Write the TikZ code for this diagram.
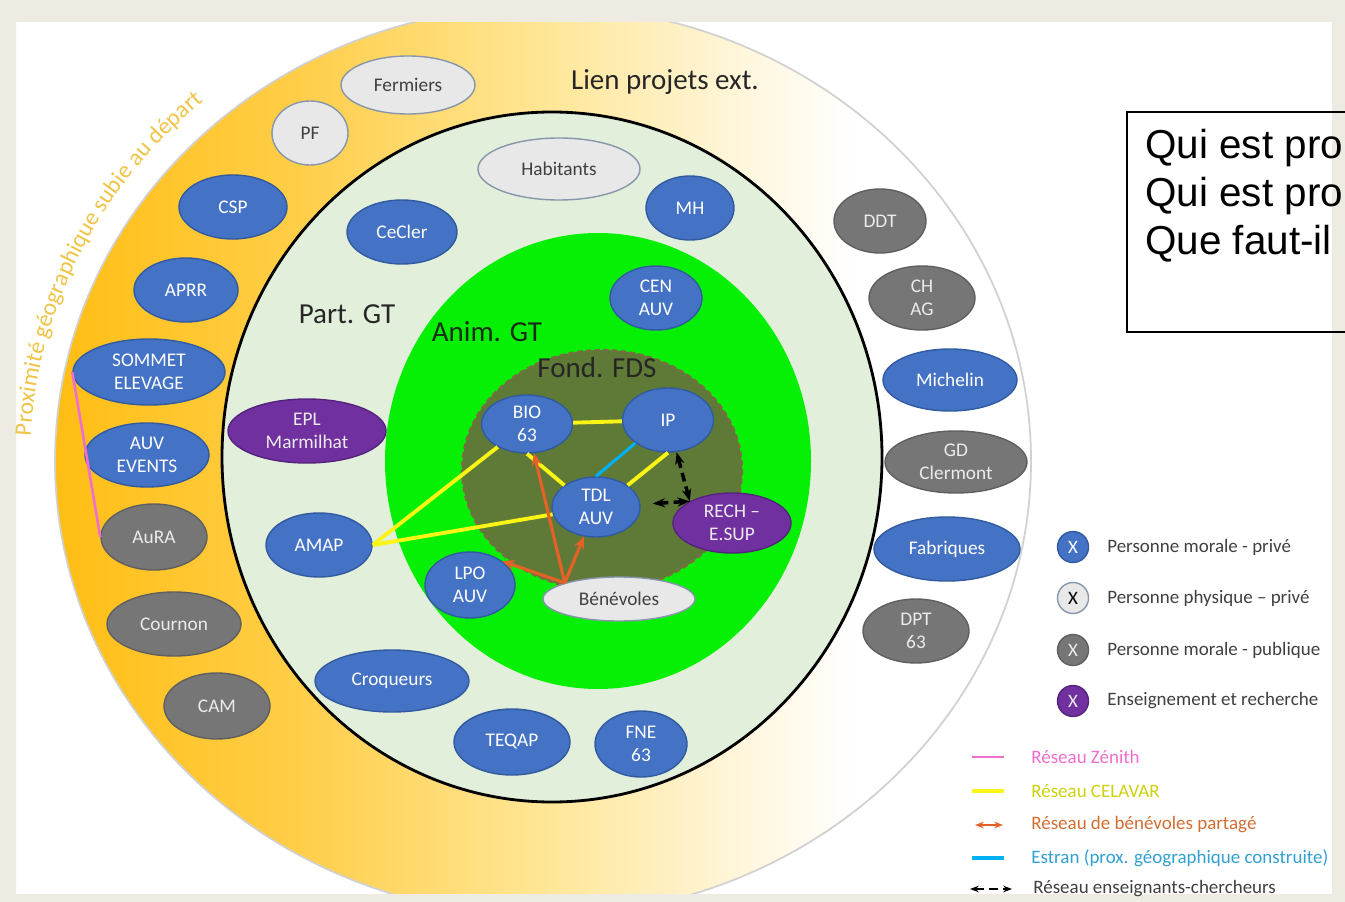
\documentclass[tikz,border=0pt]{standalone}
\usepackage{fontspec}
\setmainfont{Carlito}
\newfontfamily\qfont{Liberation Sans}
\usetikzlibrary{shapes.geometric, arrows.meta, decorations.text}

\definecolor{moralBlue}{RGB}{68,114,196}
\definecolor{moralBlueD}{RGB}{50,90,160}
\definecolor{physGray}{RGB}{232,232,232}
\definecolor{physEdge}{RGB}{135,150,170}
\definecolor{pubGray}{RGB}{118,118,118}
\definecolor{pubGrayD}{RGB}{95,95,95}
\definecolor{rechPurple}{RGB}{112,48,160}
\definecolor{rechPurpleD}{RGB}{85,35,125}
\definecolor{darkText}{RGB}{64,64,64}
\definecolor{partGreen}{RGB}{226,239,218}
\definecolor{animGreen}{RGB}{5,240,5}
\definecolor{animText}{RGB}{25,45,20}
\definecolor{fondOlive}{RGB}{94,122,54}
\definecolor{fondEdge}{RGB}{130,105,70}
\definecolor{frameBeige}{RGB}{238,235,226}
\definecolor{ringA}{RGB}{255,190,20}
\definecolor{ringB}{RGB}{255,205,70}
\definecolor{ringC}{RGB}{255,230,150}
\definecolor{ringD}{RGB}{255,247,225}
\definecolor{celavarYellow}{RGB}{250,245,20}
\definecolor{celavarText}{RGB}{205,210,10}
\definecolor{estranCyan}{RGB}{0,176,240}
\definecolor{estranText}{RGB}{50,160,210}
\definecolor{benevOrange}{RGB}{228,98,40}
\definecolor{benevText}{RGB}{210,110,50}
\definecolor{zenithPink}{RGB}{240,110,205}
\definecolor{proxYellow}{RGB}{240,196,70}

\pgfdeclarehorizontalshading{ringShade}{100bp}{color(0bp)=(ringA); color(25bp)=(ringA); color(37bp)=(ringB); color(50bp)=(ringC); color(61bp)=(ringD); color(66bp)=(white); color(100bp)=(white)}

\newcommand{\entfont}{\fontsize{11}{13}\selectfont}
\newcommand{\ringfont}{\fontsize{16.5}{19}\selectfont}
\newcommand{\legfont}{\fontsize{10.8}{12}\selectfont}
\newcommand{\proxfont}{\fontsize{13.5}{15}\selectfont}

\tikzstyle{entity} = [ellipse, draw, line width=0.8pt, inner sep=1pt, align=center, font=\entfont]
\tikzstyle{privMorale} = [entity, fill=moralBlue, draw=moralBlueD, text=white]
\tikzstyle{privPhys} = [entity, fill=physGray, draw=physEdge, text=darkText]
\tikzstyle{pubMorale} = [entity, fill=pubGray, draw=pubGrayD, text=white!92!black]
\tikzstyle{ensRech} = [entity, fill=rechPurple, draw=rechPurpleD, text=white!92!black]
\tikzstyle{ringLabel} = [inner sep=0pt, font=\ringfont, text=black!85]
\tikzstyle{celavar} = [line width=2.2pt, celavarYellow]
\tikzstyle{estran} = [line width=1.8pt, estranCyan]
\tikzstyle{benevole} = [line width=1.8pt, benevOrange, -{Stealth[length=7pt,width=6pt]}]
\tikzstyle{enseignant} = [line width=2pt, black, dash pattern=on 5pt off 3pt, {Stealth[length=7pt]}-{Stealth[length=7pt]}]
\tikzstyle{zenith} = [line width=1.5pt, zenithPink]
\tikzstyle{legText} = [anchor=west, inner sep=0pt, font=\legfont, text=darkText]
\tikzset{sz/.style 2 args={minimum width=#1*0.02cm, minimum height=#2*0.02cm}}

\begin{document}
\begin{tikzpicture}[x=0.02cm, y=-0.02cm]
  \useasboundingbox (0,0) rectangle (1345,902);
  \clip (0,0) rectangle (1345,902);
  \fill[white] (0,0) rectangle (1345,902);

  % rings
  \shadedraw[shading=ringShade, draw=black!18, line width=1pt] (543,461) ellipse [x radius=488, y radius=455];
  \filldraw[fill=partGreen, draw=black, line width=1.6pt] (552,457) ellipse [x radius=330, y radius=345];
  \fill[animGreen] (598,461) ellipse [x radius=213, y radius=228];
  \filldraw[fill=fondOlive, draw=fondEdge, densely dashed, line width=1.2pt] (602,470) ellipse [x radius=140, y radius=120];
  \fill[frameBeige, even odd rule] (0,0) rectangle (1345,902) (16,22) rectangle (1332,894);

  \path[decorate, decoration={text along path, text color=proxYellow, text align=left,
      text={|\proxfont|Proximité géographique subie au départ}}]
    (30.7,436.1) arc[start angle=183, end angle=245, x radius=513, y radius=480];

  \node[ringLabel] (lien) at (665,82) {Lien projets ext.};
  \node[ringLabel] (part) at (347,314) {Part. GT};
  \node[ringLabel, text=animText] (anim) at (487,332) {Anim. GT};
  \node[ringLabel] (fond) at (597,368) {Fond. FDS};

  % yellow ring
  \node[privPhys, sz={134}{58}] (fermiers) at (408,85) {Fermiers};
  \node[privPhys, sz={76}{64}] (pf) at (310,133) {PF};
  \node[privMorale, sz={108}{64}] (csp) at (233,207) {CSP};
  \node[privMorale, sz={104}{64}] (aprr) at (186,290) {APRR};
  \node[privMorale, sz={152}{66}] (sommet) at (149,372) {SOMMET\\ELEVAGE};
  \node[privMorale, sz={124}{64}] (auvEvents) at (147,455) {AUV\\EVENTS};
  \node[pubMorale, sz={106}{66}] (aura) at (154,537) {AuRA};
  \node[pubMorale, sz={134}{64}] (cournon) at (174,624) {Cournon};
  \node[pubMorale, sz={106}{66}] (cam) at (217,706) {CAM};
  % white side
  \node[pubMorale, sz={92}{64}] (ddt) at (880,221) {DDT};
  \node[pubMorale, sz={106}{64}] (chag) at (922,298) {CH\\AG};
  \node[privMorale, sz={134}{62}] (michelin) at (950,380) {Michelin};
  \node[pubMorale, sz={142}{62}] (gd) at (956,462) {GD\\Clermont};
  \node[privMorale, sz={146}{64}] (fabriques) at (947,549) {Fabriques};
  \node[pubMorale, sz={106}{64}] (dpt) at (916,631) {DPT\\63};
  % Part. GT
  \node[privPhys, sz={162}{62}] (habitants) at (559,169) {Habitants};
  \node[privMorale, sz={88}{64}] (mh) at (690,208) {MH};
  \node[privMorale, sz={110}{64}] (cecler) at (402,232) {CeCler};
  \node[ensRech, sz={158}{64}] (epl) at (307,431) {EPL\\Marmilhat};
  \node[privMorale, sz={106}{64}] (amap) at (319,545) {AMAP};
  \node[privMorale, sz={154}{62}] (croqueurs) at (392,681) {Croqueurs};
  \node[privMorale, sz={116}{66}] (teqap) at (512,742) {TEQAP};
  \node[privMorale, sz={92}{66}] (fne) at (641,744) {FNE\\63};
  % Anim. GT
  \node[privMorale, sz={92}{64}] (cen) at (656,298) {CEN\\AUV};
  \node[privMorale, sz={90}{66}] (lpo) at (470,585) {LPO\\AUV};
  \node[privPhys, sz={152}{44}] (benevoles) at (619,599) {Bénévoles};
  \node[ensRech, sz={118}{60}] (rech) at (732,523) {RECH –\\E.SUP};
  % Fond. FDS
  \node[privMorale, sz={91}{58}] (bio) at (527,424) {BIO\\63};
  \node[privMorale, sz={91}{64}] (ip) at (668,420) {IP};
  \node[privMorale, sz={88}{60}] (tdl) at (596,507) {TDL\\AUV};

  % networks
  \draw[zenith] (sommet.west) -- (aura.west);
  \draw[celavar] (bio) -- (ip);
  \draw[celavar] (bio.south) -- (tdl.north west);
  \draw[celavar] (tdl.north east) -- (ip.south);
  \draw[celavar] (amap.east) -- (bio);
  \draw[celavar] (amap.east) -- (tdl);
  \draw[estran] (tdl.north) -- (ip.south west);
  \draw[benevole] (benevoles.north west) -- (bio);
  \draw[benevole] (benevoles.north west) -- (tdl);
  \draw[benevole] (benevoles.north west) -- (lpo.north east);
  \draw[enseignant] (ip) -- (rech.north west);
  \draw[enseignant, shorten >=7pt] (rech.north west) -- (tdl);

  % question box
  \draw[line width=0.9pt] (1127,112) rectangle (1380,332);
  \node[anchor=north west, inner sep=0pt, align=left, font=\qfont\fontsize{23}{27.2}\selectfont] (quest) at (1145,129) {Qui est pro\\Qui est pro\\Que faut-il};

  % legend
  \node[privMorale, circle, sz={31}{31}, font=\legfont] (lgPrivM) at (1073,547) {X};
  \node[legText] (txPrivM) at (1107,547) {Personne morale - privé};
  \node[privPhys, circle, sz={31}{31}, font=\legfont, text=black] (lgPhys) at (1073,598) {X};
  \node[legText] (txPhys) at (1107,598) {Personne physique – privé};
  \node[pubMorale, circle, sz={31}{31}, font=\legfont] (lgPub) at (1073,650) {X};
  \node[legText] (txPub) at (1107,650) {Personne morale - publique};
  \node[ensRech, circle, sz={31}{31}, font=\legfont] (lgEns) at (1073,701) {X};
  \node[legText] (txEns) at (1107,701) {Enseignement et recherche};

  \draw[zenith] (972,757) -- (1004,757);
  \node[legText, text=zenithPink] (txZen) at (1031,757) {Réseau Zénith};
  \draw[celavar] (972,791) -- (1004,791);
  \node[legText, text=celavarText] (txCel) at (1031,791) {Réseau CELAVAR};
  \draw[benevole, line width=1.4pt, {Stealth[length=5pt]}-{Stealth[length=5pt]}] (975,825) -- (1003,825);
  \node[legText, text=benevText] (txBen) at (1031,825) {Réseau de bénévoles partagé};
  \draw[estran] (972,858) -- (1004,858);
  \node[legText, text=estranText] (txEst) at (1031,858) {Estran (prox. géographique construite)};
  \draw[enseignant, line width=1.4pt, {Stealth[length=5pt]}-{Stealth[length=5pt]}] (970,889) -- (1012,889);
  \node[legText] (txEns2) at (1033,889) {Réseau enseignants-chercheurs};
\end{tikzpicture}
\end{document}
